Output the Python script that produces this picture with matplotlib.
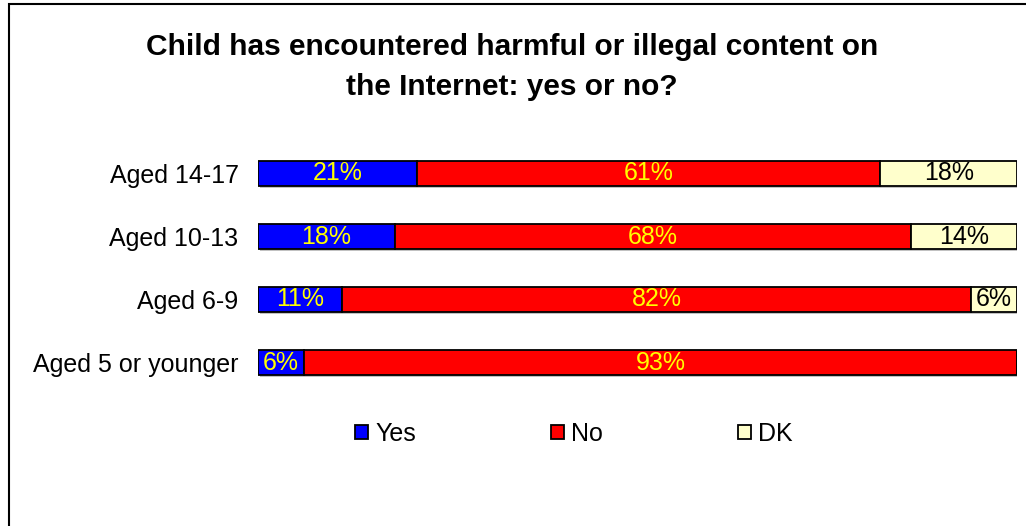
import matplotlib
matplotlib.use("Agg")
import matplotlib.pyplot as plt
import matplotlib.patheffects as pe
from matplotlib.patches import Rectangle
import numpy as np

plt.rcParams['font.family'] = ['Liberation Sans', 'DejaVu Sans']

# Survey answers per age group (percent)
categories = ["Aged 14-17", "Aged 10-13", "Aged 6-9", "Aged 5 or younger"]
yes = [21, 18, 11, 6]
no = [61, 68, 82, 93]
dk = [18, 14, 6, 0]

series_names = ["Yes", "No", "DK"]
series_colors = ["#0000FF", "#FF0000", "#FFFFCC"]
label_colors = ["#FFFF00", "#FFFF00", "#000000"]

W, H = 1026, 526
FS = 18
fig = plt.figure(figsize=(W / 100, H / 100), dpi=100)

# Outer chart frame (runs off the right and bottom of the canvas)
fig.patches.append(Rectangle((8.5 / W, -0.05), 1.2, 1 - 3.5 / H + 0.05,
                             transform=fig.transFigure, fill=False,
                             edgecolor="black", linewidth=1.5))

ax = fig.add_axes([258 / W, 1 - 394 / H, (1017 - 258) / W, (394 - 142) / H])

values = np.array([yes, no, dk], dtype=float)
totals = values.sum(axis=0)
shares = values / totals * 100          # 100% stacked
ypos = np.arange(len(categories))[::-1]

shadow = [pe.SimplePatchShadow(offset=(1.5, -1.5), shadow_rgbFace="#999999", alpha=0.6),
          pe.Normal()]

left = np.zeros(len(categories))
handles = []
for i, name in enumerate(series_names):
    bars = ax.barh(ypos, shares[i], left=left, height=0.41,
                   color=series_colors[i], edgecolor="black", linewidth=1.3,
                   label=name)
    for b in bars:
        b.set_path_effects(shadow)
    handles.append(bars)
    for y, l, w, v in zip(ypos, left, shares[i], values[i]):
        if v > 0:
            ax.text(l + w / 2, y, f"{int(v)}%", ha="center", va="center",
                    fontsize=FS, color=label_colors[i])
    left = left + shares[i]

ax.set_xlim(0, 100)
ax.set_ylim(-0.5, 3.5)
ax.set_yticks(ypos)
ax.set_yticklabels(categories, fontsize=FS)
ax.tick_params(axis="y", length=0, pad=14)
ax.set_xticks([])
for s in ax.spines.values():
    s.set_visible(False)

fig.text(512 / W, 1 - 67 / H,
         "Child has encountered harmful or illegal content on\nthe Internet: yes or no?",
         ha="center", va="center", fontsize=21.5, fontweight="bold",
         linespacing=1.54)

leg = fig.legend(handles=handles, labels=series_names, loc="center",
                 bbox_to_anchor=(574 / W, 1 - 434 / H), ncol=3, frameon=False,
                 fontsize=FS, handlelength=0.52, handleheight=0.52,
                 handletextpad=0.28, columnspacing=5.4)
for h in leg.legend_handles:
    h.set_path_effects([])

fig.savefig("out.png", dpi=100)
